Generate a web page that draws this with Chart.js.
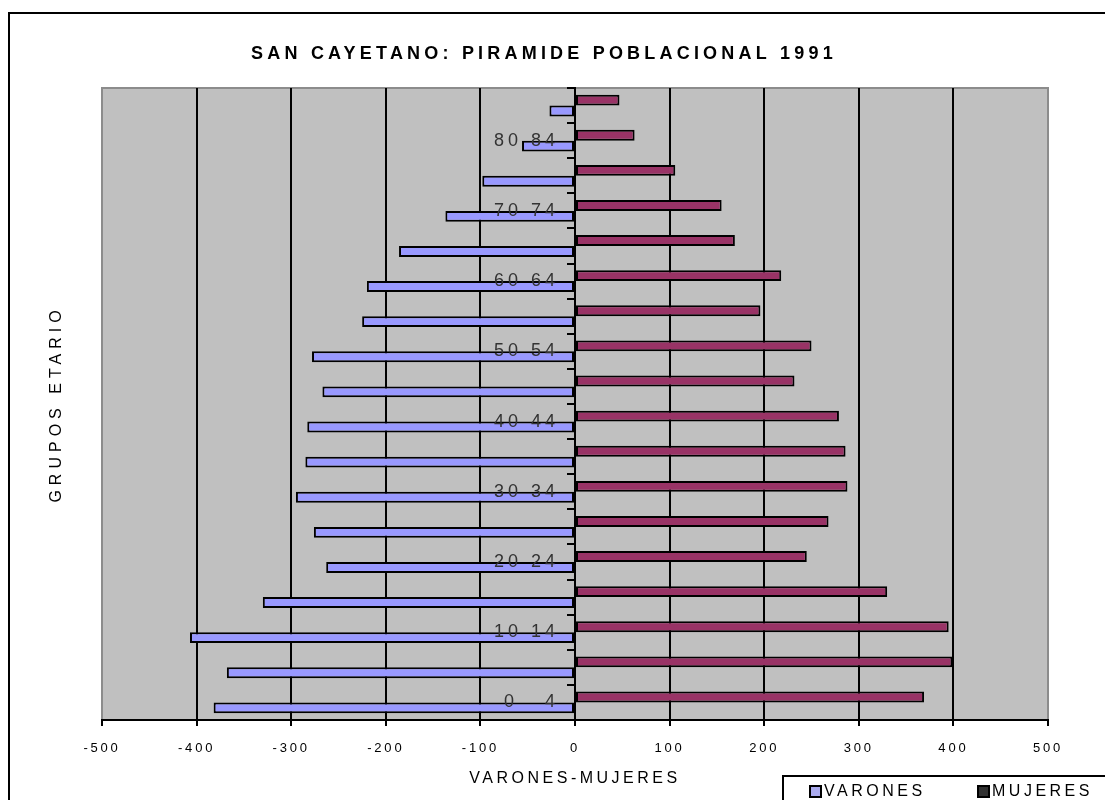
<!DOCTYPE html>
<html lang="es">
<head>
<meta charset="utf-8">
<title>San Cayetano: pirámide poblacional 1991</title>
<script src="https://cdn.jsdelivr.net/npm/chart.js@4.4.1/dist/chart.umd.min.js"></script>
<style>
  html, body { margin: 0; background: #fff; overflow: hidden; }
  #wrap { width: 1105px; height: 800px; }
</style>
</head>
<body>
<div id="wrap"><canvas id="pyramid"></canvas></div>
<script>
// grupos etarios, de abajo (0-4) hacia arriba (85+), tal como se leen en el eje
const groups = [
  "0   4", "5   9", "10 14", "15 19", "20 24", "25 29", "30 34", "35 39", "40 44",
  "45 49", "50 54", "55 59", "60 64", "65 69", "70 74", "75 79", "80 84", "85 +"
]
// varones van a la izquierda (negativos), mujeres a la derecha
const varones = [-382, -368, -407, -330, -263, -276, -295, -285, -283, -267, -278, -225, -220, -186, -137, -98, -56, -27]
const mujeres = [369, 399, 395, 330, 245, 268, 288, 286, 279, 232, 250, 196, 218, 169, 155, 106, 63, 47]
const xTicks = [-500, -400, -300, -200, -100, 0, 100, 200, 300, 400, 500]

Chart.defaults.font.family = "Arial, 'Liberation Sans', sans-serif"

// canvas text has no letter-spacing option in Chart.js, so wrap the draw calls
const letterSpacing = {
  id: "letterSpacing",
  beforeDraw(chart) {
    if (chart.$spaced) return
    chart.$spaced = true
    const wrap = (obj, name, px, dx = 0) => {
      const fn = obj[name]
      obj[name] = function (...args) {
        const ctx = chart.ctx
        ctx.save()
        ctx.translate(dx, 0)
        ctx.letterSpacing = px + "px"
        fn.apply(this, args)
        ctx.restore()
      }
    }
    wrap(chart.titleBlock, "draw", 4.2)
    wrap(chart.scales.x, "drawLabels", 2.8)
    wrap(chart.scales.x, "drawTitle", 3.5)
    // labels of an axis placed at x = 0 ignore tick padding, push them left
    wrap(chart.scales.y, "drawLabels", 4, -16)
    wrap(chart.scales.yTitle, "drawTitle", 5)
  }
}

const plotBackground = {
  id: "plotBackground",
  beforeDraw(chart) {
    const { ctx, chartArea: a } = chart
    ctx.save()
    ctx.fillStyle = "#fff"
    ctx.fillRect(0, 0, chart.width, chart.height)
    ctx.strokeStyle = "#000"
    ctx.lineWidth = 2
    ctx.strokeRect(9, 13, 1200, 900)
    ctx.fillStyle = "#c0c0c0"
    ctx.fillRect(a.left, a.top, a.width, a.height)
    ctx.strokeStyle = "#8c8c8c"
    ctx.strokeRect(a.left, a.top, a.width, a.height)
    ctx.restore()
  }
}

// legend box sits in the bottom right corner, cut by the picture edge
const cornerLegend = {
  id: "cornerLegend",
  afterDraw(chart) {
    const ctx = chart.ctx
    const items = [
      { text: chart.data.datasets[1].label, swatch: "#aaaaee", x: 810 },
      { text: chart.data.datasets[0].label, swatch: "#303030", x: 978 }
    ]
    ctx.save()
    ctx.fillStyle = "#fff"
    ctx.fillRect(783, 776, 400, 100)
    ctx.strokeStyle = "#000"
    ctx.lineWidth = 2
    ctx.strokeRect(783, 776, 400, 100)
    ctx.font = "16px Arial, 'Liberation Sans', sans-serif"
    ctx.letterSpacing = "3.5px"
    ctx.textBaseline = "middle"
    items.forEach((item) => {
      ctx.fillStyle = item.swatch
      ctx.fillRect(item.x, 786, 11, 11)
      ctx.strokeRect(item.x, 786, 11, 11)
      ctx.fillStyle = "#000"
      ctx.fillText(item.text, item.x + 14, 792)
    })
    ctx.restore()
  }
}

const labels = groups.slice().reverse()

new Chart(document.getElementById("pyramid"), {
  type: "bar",
  data: {
    labels: labels,
    datasets: [
      {
        label: "MUJERES",
        data: mujeres.slice().reverse(),
        backgroundColor: "#993366",
        borderColor: "#000",
        borderWidth: 2,
        borderSkipped: false
      },
      {
        label: "VARONES",
        data: varones.slice().reverse(),
        backgroundColor: "#9999ff",
        borderColor: "#000",
        borderWidth: 2,
        borderSkipped: false
      }
    ]
  },
  options: {
    indexAxis: "y",
    responsive: true,
    maintainAspectRatio: false,
    animation: false,
    categoryPercentage: 0.62,
    barPercentage: 1.0,
    layout: { padding: { left: 40, right: 57, top: 0, bottom: 0 } },
    plugins: {
      legend: { display: false },
      tooltip: { enabled: false },
      title: {
        display: true,
        text: "SAN CAYETANO: PIRAMIDE POBLACIONAL 1991",
        color: "#000",
        font: { size: 18, weight: "bold" },
        padding: { top: 43.5, bottom: 22.9 }
      }
    },
    scales: {
      x: {
        min: xTicks[0],
        max: xTicks[xTicks.length - 1],
        afterBuildTicks: (scale) => {
          scale.ticks = xTicks.map((v) => ({ value: v }))
        },
        ticks: { padding: 14.7, color: "#000", font: { size: 13 }, maxRotation: 0 },
        grid: {
          color: (ctx) => (ctx.tick && Math.abs(ctx.tick.value) === 500 ? "rgba(0,0,0,0)" : "#000"),
          lineWidth: 2,
          tickLength: 6,
          tickColor: "#000",
          tickWidth: 2
        },
        border: { color: "#000", width: 2 },
        title: {
          display: true,
          text: "VARONES-MUJERES",
          color: "#000",
          font: { size: 16 },
          padding: { top: -2.1, bottom: 11.9 }
        }
      },
      y: {
        position: { x: 0 },
        grid: { drawOnChartArea: false, tickLength: 7, color: "#000", lineWidth: 2, z: 1 },
        border: { color: "#000", width: 2, z: 1 },
        ticks: {
          autoSkip: false,
          color: "#333",
          font: { size: 18 },
          z: 1,
          callback: function (value, index) {
            const fromBottom = labels.length - 1 - index
            return fromBottom % 2 === 0 ? this.getLabelForValue(value) : ""
          }
        }
      },
      yTitle: {
        type: "linear",
        axis: "y",
        position: "left",
        grid: { display: false, drawTicks: false },
        border: { display: false },
        ticks: { display: false },
        title: {
          display: true,
          text: "GRUPOS ETARIO",
          color: "#000",
          font: { size: 16 },
          padding: { top: 7.4, bottom: 35.4 }
        }
      }
    }
  },
  plugins: [plotBackground, letterSpacing, cornerLegend]
})
</script>
</body>
</html>
